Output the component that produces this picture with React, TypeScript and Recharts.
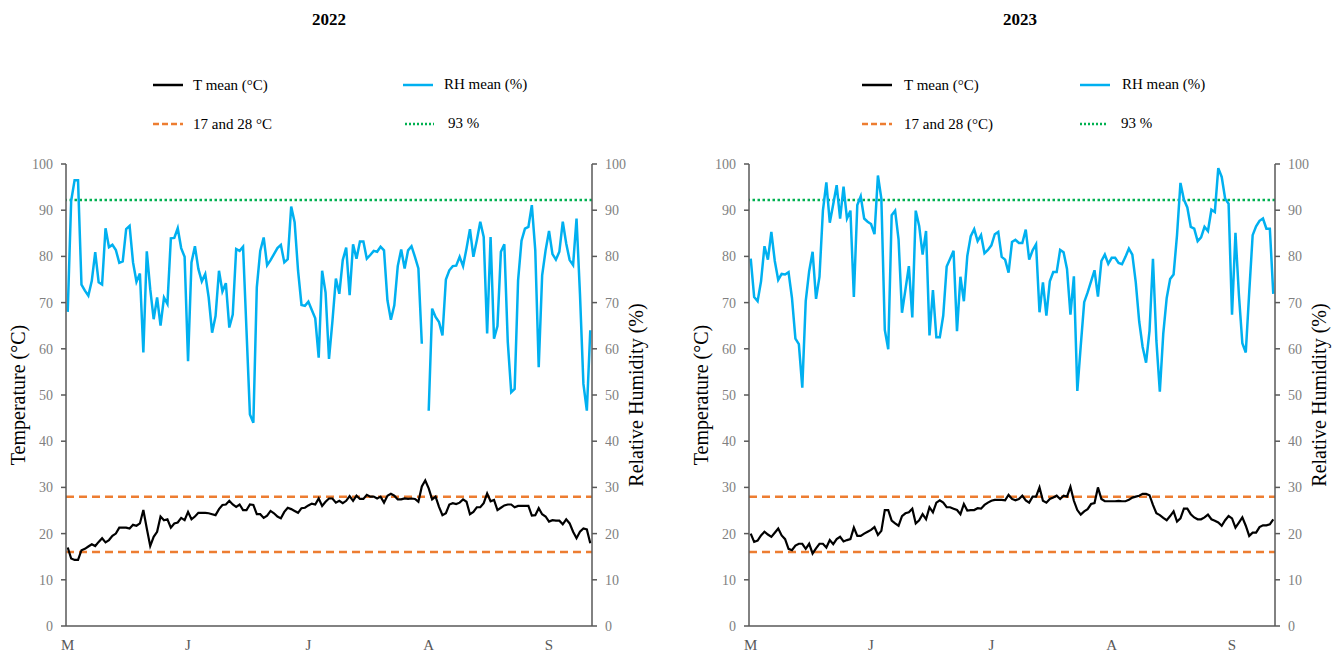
import React from "react";
import { LineChart, Line, XAxis, YAxis, ReferenceLine } from "recharts";

// daily means, 1 May - 30 Sep
const t2022 = [
  17, 14.6, 14.3, 14.3, 16.4, 16.7, 17.2, 17.7, 17.3, 18.2,
  19, 18.1, 18.6, 19.5, 20, 21.3, 21.3, 21.3, 21.1, 21.9,
  21.7, 22.2, 25.1, 21.1, 17.3, 19.3, 20.4, 23.7, 22.9, 23.1,
  21.3, 22.2, 22.4, 23.4, 22.9, 24.7, 23.1, 23.7, 24.5, 24.5,
  24.5, 24.4, 24.2, 24, 25.3, 26.2, 26.3, 27.1, 26.3, 25.8,
  26.3, 25.1, 25.1, 26.3, 26.2, 24.2, 24.2, 23.4, 23.9, 24.9,
  24.4, 23.7, 23.3, 24.7, 25.6, 25.3, 24.9, 24.5, 25.5, 25.6,
  26.1, 26.5, 26.3, 27.6, 26, 26.9, 27.6, 27.6, 26.7, 27.1,
  26.6, 27.1, 28.1, 27.1, 28.2, 27.5, 27.5, 28.4, 28, 28,
  27.6, 28, 26.7, 28.2, 28.6, 28.2, 27.4, 27.4, 27.6, 27.5,
  27.6, 27.5, 26.9, 30.2, 31.5, 29.8, 27.4, 28, 25.8, 24,
  24.4, 26.3, 26.6, 26.4, 26.7, 27.4, 26.9, 24.2, 24.7, 25.7,
  25.7, 26.6, 28.7, 27, 27.3, 25.1, 25.6, 26.1, 26.3, 26.3,
  25.7, 26, 26, 26, 26, 23.9, 24, 25.5, 24.2, 23.7,
  22.6, 22.9, 22.8, 22.8, 22, 23.1, 22.2, 20.4, 19, 20.4,
  21.1, 20.9, 17.9,
];

const rh2022 = [
  68, 92, 96.5, 96.5, 73.9, 72.6, 71.5, 74.7, 80.9, 74.4,
  73.9, 86.1, 82, 82.5, 81.4, 78.6, 78.9, 85.9, 86.6, 78.7,
  74.5, 76.3, 59.2, 81.1, 72.9, 66.4, 71.1, 65, 71.1, 69.7,
  83.9, 84, 86.1, 81.8, 79.9, 57.3, 78.7, 82.2, 77.3, 74.6,
  76.2, 71.1, 63.5, 67.1, 76.9, 72.4, 74.2, 64.6, 67.4, 81.6,
  81.2, 82.1, 64, 45.8, 44, 73.3, 81.2, 84.1, 78.1, 79.2,
  80.5, 81.8, 82.5, 78.7, 79.4, 90.8, 87.4, 76.9, 69.5, 69.3,
  70.2, 68.4, 66.6, 58.1, 76.9, 72.2, 57.8, 66, 75.2, 71.9,
  79.2, 81.9, 71.6, 82.6, 79.5, 83.2, 83.2, 79.5, 80.3, 81.2,
  81, 82.1, 81.3, 70.5, 66.3, 69.4, 77.9, 81.5, 77.4, 81.3,
  82.2, 79.9, 77.4, 61.1, null, 46.6, 68.7, 66.9, 65.8, 62.9,
  75, 77, 77.9, 78, 79.9, 77.9, 81.7, 85.9, 79.9, 83.5,
  87.5, 84.2, 63.3, 84.2, 62.2, 64.9, 81, 82.6, 61.5, 50.6,
  51.3, 74.8, 83.4, 86, 86.4, 91.1, 81.3, 56, 75.9, 81.3,
  85.5, 80.5, 79.3, 81, 87.5, 82.8, 79.2, 78.1, 88.2, 71.9,
  52.4, 46.6, 64,
];

const t2023 = [
  20, 18.2, 18.5, 19.6, 20.4, 19.8, 19.3, 20.2, 21.1, 19.6,
  18.8, 16.7, 16.4, 17.4, 17.8, 17.8, 16.7, 17.8, 15.7, 16.8,
  17.8, 17.8, 17, 18.6, 17.7, 18.8, 19.3, 18.3, 18.6, 18.8,
  21.3, 19.5, 19.5, 20, 20.4, 20.8, 21.4, 19.7, 20.6, 25.1,
  25.1, 22.8, 22.2, 21.7, 23.8, 24.4, 24.6, 25.4, 22.2, 22.9,
  24.2, 23.1, 25.7, 24.6, 26.7, 27.2, 26.7, 25.7, 25.7, 25.4,
  25.1, 24.2, 26.4, 25, 25.1, 25.1, 25.5, 25.4, 26.2, 26.7,
  27.1, 27.3, 27.3, 27.3, 27.2, 28.4, 27.5, 27.2, 27.5, 28.2,
  27.2, 26.7, 28, 28, 30, 27.1, 26.7, 27.5, 27.8, 28.2,
  27.5, 28.2, 28, 30.1, 27.1, 25.1, 24.1, 24.8, 25.3, 26.4,
  26.6, 30, 27.5, 27, 27, 27, 27, 27.1, 27, 27,
  27.3, 27.8, 28, 28.2, 28.6, 28.6, 28.3, 26.2, 24.4, 24,
  23.4, 22.9, 23.8, 24.8, 22.6, 23.3, 25.4, 25.4, 24.2, 23.5,
  23.1, 23.1, 23.5, 24.1, 23.1, 22.8, 22.4, 21.7, 22.9, 23.8,
  23.3, 21.3, 22.4, 23.5, 21.7, 19.5, 20.2, 20.2, 21.4, 21.8,
  21.8, 22, 23.1,
];

const rh2023 = [
  79.5, 71.2, 70.3, 74.6, 82.2, 79.3, 85.3, 79, 74.9, 76.2,
  76.1, 76.6, 71, 62.2, 61, 51.6, 70.3, 76.8, 81, 70.8,
  75.6, 89.9, 96, 87.3, 91.3, 95.4, 88.2, 95.1, 88.2, 89.9,
  71.2, 91.1, 93, 88.2, 87.5, 87, 84.8, 97.5, 92.5, 64.1,
  59.9, 88.9, 89.9, 83.7, 67.8, 72.8, 77.9, 66.8, 89.9, 86.6,
  80.4, 85.5, 62.9, 72.7, 62.5, 62.5, 67.2, 77.8, 79.5, 81.2,
  63.8, 75.6, 70.3, 80.1, 84.4, 85.9, 83.3, 84.6, 80.7, 81.4,
  82.4, 84.8, 85.3, 79.9, 79.3, 76.5, 83.1, 83.6, 82.9, 82.9,
  85.8, 79.3, 81.3, 82.6, 67.9, 74.4, 67.2, 74.6, 76.6, 76.6,
  81.4, 80.9, 77.3, 67.4, 75.7, 50.9, 60.7, 70.1, 72.2, 74.6,
  77, 71.3, 79, 80.4, 78.4, 79.7, 79.7, 78.6, 78.3, 79.9,
  81.7, 80.4, 74.4, 65.9, 60.4, 57, 63.9, 79.5, 61.7, 50.7,
  63.3, 71, 75.1, 76.1, 84.6, 95.9, 92.3, 90.6, 86.4, 86,
  83.3, 84.1, 86.4, 85.5, 90.1, 89.6, 99.1, 97.2, 92.5, 91.4,
  67.4, 85.1, 71.7, 61.2, 59.2, 72.2, 84.6, 86.5, 87.7, 88.2,
  86, 86, 71.9,
];

const monthTicks = [0, 35, 70, 105, 140];
const monthLabels = ["M", "J", "J", "A", "S"];
const yTicks = [0, 10, 20, 30, 40, 50, 60, 70, 80, 90, 100];
const tLimits = [16, 28];
const rhLimit = 92.2;

const FONT = "'Liberation Serif', 'Times New Roman', serif";
const AXIS = "#595959";
const TICK = "#7f7f7f";

const LegendKey = ({ x, y, color, dash, width = 30 }: any) => (
  <svg style={{ position: "absolute", left: x, top: y - 3 }} width={width} height={6}>
    <line x1={0} y1={3} x2={width} y2={3} stroke={color} strokeWidth={2.5} strokeDasharray={dash} />
  </svg>
);

const Txt = ({ x, y, children, size = 15 }: any) => (
  <div style={{ position: "absolute", left: x, top: y, transform: "translateY(-50%)", fontSize: size, whiteSpace: "nowrap", color: "#000" }}>
    {children}
  </div>
);

const VText = ({ cx, cy, children }: any) => (
  <div style={{ position: "absolute", left: cx, top: cy, transform: "translate(-50%,-50%) rotate(-90deg)", fontSize: 20, whiteSpace: "nowrap", color: "#000" }}>
    {children}
  </div>
);

function Panel({ left, t, rh }: any) {
  const rows = t.map((v: number, i: number) => ({ i, t: v, rh: rh[i] }));
  return (
    <div style={{ position: "absolute", left, top: 0 }}>
      <LineChart width={668} height={653} data={rows} margin={{ top: 164, right: 16, bottom: 0, left: 6 }}>
        <XAxis
          dataKey="i"
          type="number"
          domain={[-0.5, 152.5]}
          ticks={monthTicks}
          tickFormatter={(v: number) => monthLabels[monthTicks.indexOf(v)]}
          tickLine={false}
          tickSize={0}
          tickMargin={13}
          height={27}
          axisLine={{ stroke: AXIS, strokeWidth: 1.5 }}
          tick={{ fill: AXIS, fontSize: 15 }}
          interval={0}
        />
        <YAxis
          yAxisId="t"
          domain={[0, 100]}
          ticks={yTicks}
          width={60}
          tickSize={5}
          tickMargin={8}
          axisLine={{ stroke: AXIS, strokeWidth: 1.5 }}
          tickLine={{ stroke: AXIS, strokeWidth: 1.5 }}
          tick={{ fill: TICK, fontSize: 14 }}
          interval={0}
        />
        <YAxis
          yAxisId="rh"
          orientation="right"
          domain={[0, 100]}
          ticks={yTicks}
          width={60}
          tickSize={5}
          tickMargin={8}
          axisLine={{ stroke: AXIS, strokeWidth: 1.5 }}
          tickLine={{ stroke: AXIS, strokeWidth: 1.5 }}
          tick={{ fill: TICK, fontSize: 14, textAnchor: "start" }}
          interval={0}
        />
        {tLimits.map((v) => (
          <ReferenceLine key={v} yAxisId="t" y={v} stroke="#ED7D31" strokeWidth={2.5} strokeDasharray="8 5" />
        ))}
        <ReferenceLine yAxisId="rh" y={rhLimit} stroke="#00B050" strokeWidth={2.5} strokeDasharray="2.5 2.5" />
        <Line yAxisId="rh" dataKey="rh" stroke="#00B0F0" strokeWidth={2.5} dot={false} connectNulls={false} isAnimationActive={false} />
        <Line yAxisId="t" dataKey="t" stroke="#000" strokeWidth={2.2} dot={false} isAnimationActive={false} />
      </LineChart>
    </div>
  );
}

export default function App() {
  return (
    <div style={{ position: "absolute", left: 0, top: 0, width: 1336, height: 653, background: "#fff", fontFamily: FONT, overflow: "hidden" }}>
      <Panel left={0} t={t2022} rh={rh2022} />
      <Panel left={683} t={t2023} rh={rh2023} />

      <div style={{ position: "absolute", left: 279, top: 10, width: 100, textAlign: "center", fontSize: 17, fontWeight: "bold" }}>2022</div>
      <div style={{ position: "absolute", left: 970, top: 10, width: 100, textAlign: "center", fontSize: 17, fontWeight: "bold" }}>2023</div>

      <LegendKey x={153} y={85} color="#000" />
      <Txt x={193} y={85}>T mean (°C)</Txt>
      <LegendKey x={403} y={85} color="#00B0F0" />
      <Txt x={444} y={84}>RH mean (%)</Txt>
      <LegendKey x={153} y={124} color="#ED7D31" dash="6 3" />
      <Txt x={193} y={124}>17 and 28 °C</Txt>
      <LegendKey x={405} y={124} color="#00B050" dash="2 2" width={29} />
      <Txt x={448} y={123}>93 %</Txt>

      <LegendKey x={862} y={85} color="#000" />
      <Txt x={904} y={85}>T mean (°C)</Txt>
      <LegendKey x={1080} y={85} color="#00B0F0" />
      <Txt x={1122} y={84}>RH mean (%)</Txt>
      <LegendKey x={862} y={124} color="#ED7D31" dash="6 3" />
      <Txt x={904} y={124}>17 and 28 (°C)</Txt>
      <LegendKey x={1080} y={124} color="#00B050" dash="2 2" width={28} />
      <Txt x={1121} y={123}>93 %</Txt>

      <VText cx={18} cy={395}>Temperature (°C)</VText>
      <VText cx={636} cy={395}>Relative Humidity (%)</VText>
      <VText cx={701} cy={395}>Temperature (°C)</VText>
      <VText cx={1319} cy={395}>Relative Humidity (%)</VText>
    </div>
  );
}
